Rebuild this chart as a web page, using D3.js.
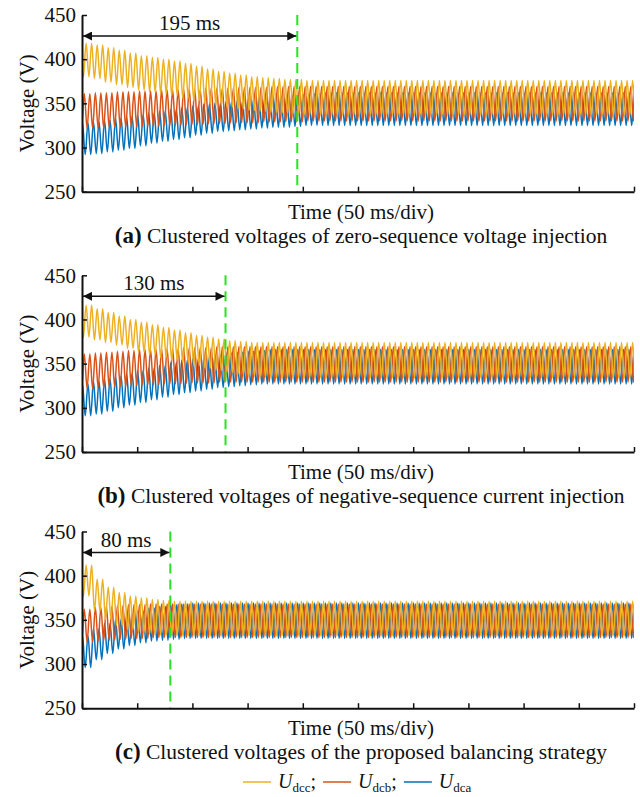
<!DOCTYPE html>
<html>
<head>
<meta charset="utf-8">
<script src="https://cdn.jsdelivr.net/npm/d3@7"></script>
<style>
  body { margin: 0; background: #fff; }
  svg text { font-family: "Liberation Serif", "Times New Roman", serif; fill: #111; }
</style>
</head>
<body>
<svg id="chart" width="640" height="797"></svg>
<script>
// Cluster DC voltages, read as ripple envelopes: one reading every 10 ms from t = 0,
// the last reading of each list holds until the end of the 500 ms window.
const aUdccHi = [418, 416, 413, 410, 407, 404, 402, 400, 398, 395, 392, 389, 386, 384, 382, 380, 379, 378, 377, 377, 376];
const aUdccLo = [380, 378, 374, 371, 368, 365, 363, 361, 359, 356, 353, 350, 348, 346, 344, 342, 341, 340, 339, 338, 337];
const aUdcbHi = [361, 362, 362, 363, 363, 364, 364, 365, 365, 366, 366, 367, 367, 367, 368, 368, 368, 369, 369, 369, 369];
const aUdcbLo = [322, 322, 323, 323, 323, 324, 324, 325, 325, 326, 326, 327, 327, 328, 328, 328, 329, 329, 329, 329, 330];
const aUdcaHi = [328, 329, 331, 333, 335, 337, 339, 341, 343, 345, 347, 349, 350, 352, 353, 355, 356, 357, 358, 359, 360, 361, 362];
const aUdcaLo = [292, 293, 295, 297, 299, 302, 305, 307, 309, 311, 314, 316, 318, 319, 320, 321, 322, 323, 323, 324, 325];

const bUdccHi = [416, 412, 408, 404, 400, 397, 394, 391, 388, 385, 382, 380, 378, 376, 375, 374];
const bUdccLo = [380, 377, 374, 371, 367, 363, 360, 357, 354, 351, 348, 345, 342, 340, 338, 336, 335, 334];
const bUdcbHi = [361, 362, 363, 364, 365, 366, 366, 367, 367, 368, 368, 368, 369];
const bUdcbLo = [322, 323, 324, 324, 325, 326, 326, 327, 327, 328, 328, 328, 329];
const bUdcaHi = [327, 330, 333, 336, 339, 342, 345, 348, 351, 354, 356, 358, 360, 362, 363, 364, 365, 366];
const bUdcaLo = [291, 293, 296, 300, 303, 306, 309, 312, 315, 317, 319, 321, 323, 324, 325, 326, 327];

const cUdccHi = [412, 396, 387, 381, 377, 375, 373, 372, 371];
const cUdccLo = [377, 360, 350, 344, 339, 336, 334, 333, 332];
const cUdcbHi = [362, 364, 365, 366, 367, 367, 368];
const cUdcbLo = [325, 326, 327, 328, 329, 329, 330];
const cUdcaHi = [332, 340, 346, 351, 356, 360, 363, 365, 367, 368, 369];
const cUdcaLo = [296, 305, 312, 317, 321, 324, 326, 327, 328, 329];

const settleMs = [195, 130, 80];
const captionTags = ["(a)", "(b)", "(c)"];
const captionTexts = [
    "Clustered voltages of zero-sequence voltage injection",
    "Clustered voltages of negative-sequence current injection",
    "Clustered voltages of the proposed balancing strategy"
];
const seriesNames = ["dcc", "dcb", "dca"];          // subscripts of U
const seriesColors = ["#EDB120", "#D95319", "#0072BD"];
const ripplePhase = [0.75, 0.42, 0.08];             // where each cycle's peak falls, in cycles
const voltTicks = [250, 300, 350, 400, 450];
const timeTicks = [0, 50, 100, 150, 200, 250, 300, 350, 400, 450, 500];

const timeSpanMs = 500, rippleMs = 5, envStepMs = 10;

const envelopes = [
    [[aUdccHi, aUdccLo], [aUdcbHi, aUdcbLo], [aUdcaHi, aUdcaLo]],
    [[bUdccHi, bUdccLo], [bUdcbHi, bUdcbLo], [bUdcaHi, bUdcaLo]],
    [[cUdccHi, cUdccLo], [cUdcbHi, cUdcbLo], [cUdcaHi, cUdcaLo]]
];

// layout
const svg = d3.select("#chart");
const plotLeft = 82, plotRight = 634, plotH = 176.7;
const panelTops = [15, 275.3, 531.5];
const midX = 361;
const fontSize = 21;

const x = d3.scaleLinear().domain([0, timeSpanMs]).range([plotLeft, plotRight]);

// envelope reading in force at time t
function readingAt(arr, t) {
    const i = Math.max(0, Math.min(arr.length - 1, Math.floor(t / envStepMs)));
    return arr[i];
}

// one peak and one trough per ripple cycle
function tracePoints(hi, lo, phase) {
    const pts = [];
    for (let k = -1; k <= timeSpanMs / rippleMs; k++) {
        const tPeak = (k + phase) * rippleMs,
            tValley = tPeak + rippleMs / 2;
        pts.push([tPeak, readingAt(hi, tPeak)]);
        pts.push([tValley, readingAt(lo, tValley)]);
    }
    return pts;
}

const defs = svg.append("defs");
defs.append("marker")
    .attr("id", "arrowHead")
    .attr("viewBox", "0 0 10 10")
    .attr("refX", 10).attr("refY", 5)
    .attr("markerWidth", 12).attr("markerHeight", 9)
    .attr("markerUnits", "userSpaceOnUse")
    .attr("orient", "auto-start-reverse")
    .append("path")
    .attr("d", "M0,0 L10,5 L0,10 Z")
    .attr("fill", "#111");

envelopes.forEach((panel, pi) => {
    const top = panelTops[pi];
    const y = d3.scaleLinear().domain([250, 450]).range([top + plotH, top]);
    const g = svg.append("g");

    defs.append("clipPath").attr("id", "clip" + pi)
        .append("rect")
        .attr("x", plotLeft).attr("y", top)
        .attr("width", plotRight - plotLeft).attr("height", plotH);

    const line = d3.line()
        .x(d => x(d[0]))
        .y(d => y(d[1]))
        .curve(d3.curveMonotoneX);

    // blue first, yellow on top
    const traces = g.append("g").attr("clip-path", `url(#clip${pi})`);
    [2, 1, 0].forEach(si => {
        const [hi, lo] = panel[si];
        traces.append("path")
            .attr("d", line(tracePoints(hi, lo, ripplePhase[si])))
            .attr("fill", "none")
            .attr("stroke", seriesColors[si])
            .attr("stroke-width", 1.5);
    });

    // settling marker
    const tx = x(settleMs[pi]);
    g.append("line")
        .attr("x1", tx).attr("x2", tx)
        .attr("y1", top).attr("y2", top + plotH)
        .attr("stroke", "#22e622")
        .attr("stroke-width", 2)
        .attr("stroke-dasharray", "10,6");
    g.append("line")
        .attr("x1", x(0) + 1).attr("x2", tx - 1)
        .attr("y1", top + 21).attr("y2", top + 21)
        .attr("stroke", "#111")
        .attr("stroke-width", 1.5)
        .attr("marker-start", "url(#arrowHead)")
        .attr("marker-end", "url(#arrowHead)");
    g.append("text")
        .attr("x", (x(0) + tx) / 2).attr("y", top + 8)
        .attr("text-anchor", "middle")
        .attr("dominant-baseline", "central")
        .attr("font-size", fontSize)
        .text(settleMs[pi] + " ms");

    // axes
    const yAxis = g.append("g")
        .attr("transform", `translate(${plotLeft},0)`)
        .call(d3.axisLeft(y).tickValues(voltTicks).tickSize(-5).tickSizeOuter(0).tickPadding(6));
    const xAxis = g.append("g")
        .attr("transform", `translate(0,${top + plotH})`)
        .call(d3.axisBottom(x).tickValues(timeTicks).tickSize(-5).tickSizeOuter(0).tickFormat(""));
    [yAxis, xAxis].forEach(a => {
        a.select(".domain").attr("stroke", "#111").attr("stroke-width", 2);
        a.selectAll(".tick line").attr("stroke", "#111").attr("stroke-width", 1.5);
        a.selectAll(".tick text")
            .attr("font-family", "Liberation Serif, Times New Roman, serif")
            .attr("font-size", fontSize)
            .attr("fill", "#111");
    });

    g.append("text")
        .attr("transform", `translate(27,${top + plotH / 2}) rotate(-90)`)
        .attr("text-anchor", "middle")
        .attr("dominant-baseline", "central")
        .attr("font-size", fontSize)
        .text("Voltage (V)");

    g.append("text")
        .attr("x", midX).attr("y", top + plotH + 27)
        .attr("text-anchor", "middle")
        .attr("font-size", fontSize)
        .text("Time (50 ms/div)");

    const cap = g.append("text")
        .attr("x", midX).attr("y", top + plotH + 51)
        .attr("text-anchor", "middle")
        .attr("font-size", 21.5);
    cap.append("tspan").attr("font-weight", "bold").attr("font-size", 23).text(captionTags[pi]);
    cap.append("tspan").text(" " + captionTexts[pi]);
});

// legend
const legend = svg.append("g");
let lx = 243;
const ly = 782;
seriesNames.forEach((name, si) => {
    legend.append("line")
        .attr("x1", lx).attr("x2", lx + 28)
        .attr("y1", ly).attr("y2", ly)
        .attr("stroke", seriesColors[si])
        .attr("stroke-width", 1.5);
    lx += 35;
    const t = legend.append("text")
        .attr("x", lx).attr("y", ly + 6)
        .attr("font-size", 20);
    t.append("tspan").attr("font-style", "italic").text("U");
    t.append("tspan").attr("font-size", 13).attr("dy", 4).text(name);
    if (si < seriesNames.length - 1) t.append("tspan").attr("dy", -4).text(";");
    lx += t.node().getComputedTextLength() + 7;
});
</script>
</body>
</html>
